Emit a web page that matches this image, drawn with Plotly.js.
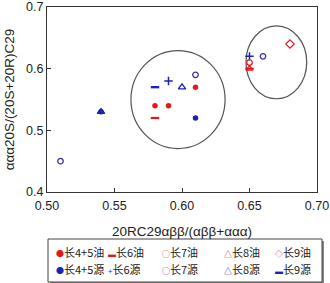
<!DOCTYPE html>
<html>
<head>
<meta charset="utf-8">
<script src="https://cdn.plot.ly/plotly-3.0.1.min.js"></script>
<style>html,body{margin:0;padding:0;background:#fff}#chart{width:330px;height:283px}</style>
</head>
<body>
<div id="chart"></div>
<script>
// Series names
var seriesNames = ['长4+5油','长6油','长7油','长8油','长9油','长4+5源','长6源','长7源','长8源','长9源'];
// Values
var x_c45oil = [0.58, 0.59, 0.61];
var y_c45oil = [0.54, 0.54, 0.57];
var x_c6oil = [0.58, 0.65];
var y_c6oil = [0.52, 0.60];
var x_c7oil = [0.65];
var y_c7oil = [0.61];
var x_c8oil = [0.65];
var y_c8oil = [0.60];
var x_c9oil = [0.68];
var y_c9oil = [0.64];
var x_c45src = [0.61, 0.54];
var y_c45src = [0.52, 0.53];
var x_c6src = [0.59, 0.65];
var y_c6src = [0.58, 0.62];
var x_c7src = [0.61, 0.66, 0.51];
var y_c7src = [0.59, 0.62, 0.45];
var x_c8src = [0.60, 0.54];
var y_c8src = [0.57, 0.53];
var x_c9src = [0.58];
var y_c9src = [0.57];
var xTickVals = [0.50, 0.55, 0.60, 0.65, 0.70];
var yTickVals = [0.4, 0.5, 0.6, 0.7];

var RED = '#e3171e', BLUE = '#1c22b4', NAVY = '#3b2f98';
var xs = [x_c45oil,x_c6oil,x_c7oil,x_c8oil,x_c9oil,x_c45src,x_c6src,x_c7src,x_c8src,x_c9src];
var ys = [y_c45oil,y_c6oil,y_c7oil,y_c8oil,y_c9oil,y_c45src,y_c6src,y_c7src,y_c8src,y_c9src];
var styles = [
  {symbol:'circle', size:5.5, color:RED, lw:0, glyph:'●'},
  {symbol:'line-ew', size:6, color:RED, lw:2.2, glyph:'▬'},
  {symbol:'circle-open', size:5.5, color:RED, lw:1.2, glyph:'○'},
  {symbol:'triangle-up-open', size:6, color:RED, lw:1.2, glyph:'△'},
  {symbol:'diamond-open', size:6.5, color:RED, lw:1.1, glyph:'◇'},
  {symbol:'circle', size:5.5, color:BLUE, lw:0, glyph:'●'},
  {symbol:'cross-thin', size:6, color:BLUE, lw:1.5, glyph:'+'},
  {symbol:'circle-open', size:5.5, color:NAVY, lw:1.3, glyph:'○'},
  {symbol:'triangle-up-open', size:6.5, color:BLUE, lw:1.3, glyph:'△'},
  {symbol:'line-ew', size:6, color:BLUE, lw:2.4, glyph:'▬'}
];

var traces = seriesNames.map(function(n,i){
  var s = styles[i];
  return {type:'scatter', mode:'markers', name:n, x:xs[i], y:ys[i], showlegend:false,
    marker:{symbol:s.symbol, size:s.size, color:s.color, line:{color:s.color, width:s.lw}}};
});
traces = traces.slice(5).concat(traces.slice(0,5));

// plot area px: x 47..317, y 7..192
function px2x(p){return (p-47)/270;}
function py2y(p){return (192-p)/185;}
var colCenters = [58, 110, 164, 226, 277];
var rowCenters = [252, 268.5];
var annotations = [];
seriesNames.forEach(function(n,i){
  var r = i < 5 ? 0 : 1, c = i % 5, s = styles[i];
  annotations.push({xref:'paper', yref:'paper', x:px2x(colCenters[c]-4), y:py2y(rowCenters[r]),
    xanchor:'left', yanchor:'middle', showarrow:false,
    text:'<span style="color:'+s.color+';font-size:8px">'+s.glyph+'</span>'+n,
    font:{family:'Noto Sans CJK SC, Liberation Sans, sans-serif', size:11, color:'#222'}});
});

var shapes = [
  {type:'circle', xref:'x', yref:'y', x0:0.5622, x1:0.6319, y0:0.4705, y1:0.6294, line:{color:'#555', width:1.2}, layer:'below'},
  {type:'circle', xref:'x', yref:'y', x0:0.6474, x1:0.6924, y0:0.5512, y1:0.6695, line:{color:'#555', width:1.2}, layer:'below'},
  {type:'rect', xref:'paper', yref:'paper', x0:px2x(50), x1:px2x(324), y0:py2y(284), y1:py2y(241), line:{width:0}, fillcolor:'#888'},
  {type:'rect', xref:'paper', yref:'paper', x0:px2x(48), x1:px2x(322), y0:py2y(282), y1:py2y(239), line:{color:'#444', width:1}, fillcolor:'#fff'}
];

var axisCommon = {showgrid:false, zeroline:false, showline:true, mirror:true, linecolor:'#333', linewidth:1,
  ticks:'inside', ticklen:4, tickcolor:'#333', ticklabeloverflow:'allow',
  tickfont:{family:'Liberation Sans, Arial, sans-serif', size:12.5, color:'#222'}};

var layout = {
  width:330, height:283, margin:{l:47, r:13, t:7, b:91}, paper_bgcolor:'#fff', plot_bgcolor:'#fff',
  showlegend:false,
  xaxis: Object.assign({}, axisCommon, {range:[0.5,0.7], tickvals:xTickVals, tickformat:'.2f', ticklabelstandoff:2,
    title:{text:'20RC29αββ/(αββ+ααα)', font:{family:'Liberation Sans, Arial, sans-serif', size:13.5, color:'#222'}, standoff:14}}),
  yaxis: Object.assign({}, axisCommon, {range:[0.4,0.7], tickvals:yTickVals, tickformat:'.1f',
    title:{text:'ααα20S/(20S+20R)C29', font:{family:'Liberation Sans, Arial, sans-serif', size:13.5, color:'#222'}, standoff:8}}),
  shapes:shapes, annotations:annotations
};
Plotly.newPlot('chart', traces, layout, {staticPlot:true, displayModeBar:false});
</script>
</body>
</html>
